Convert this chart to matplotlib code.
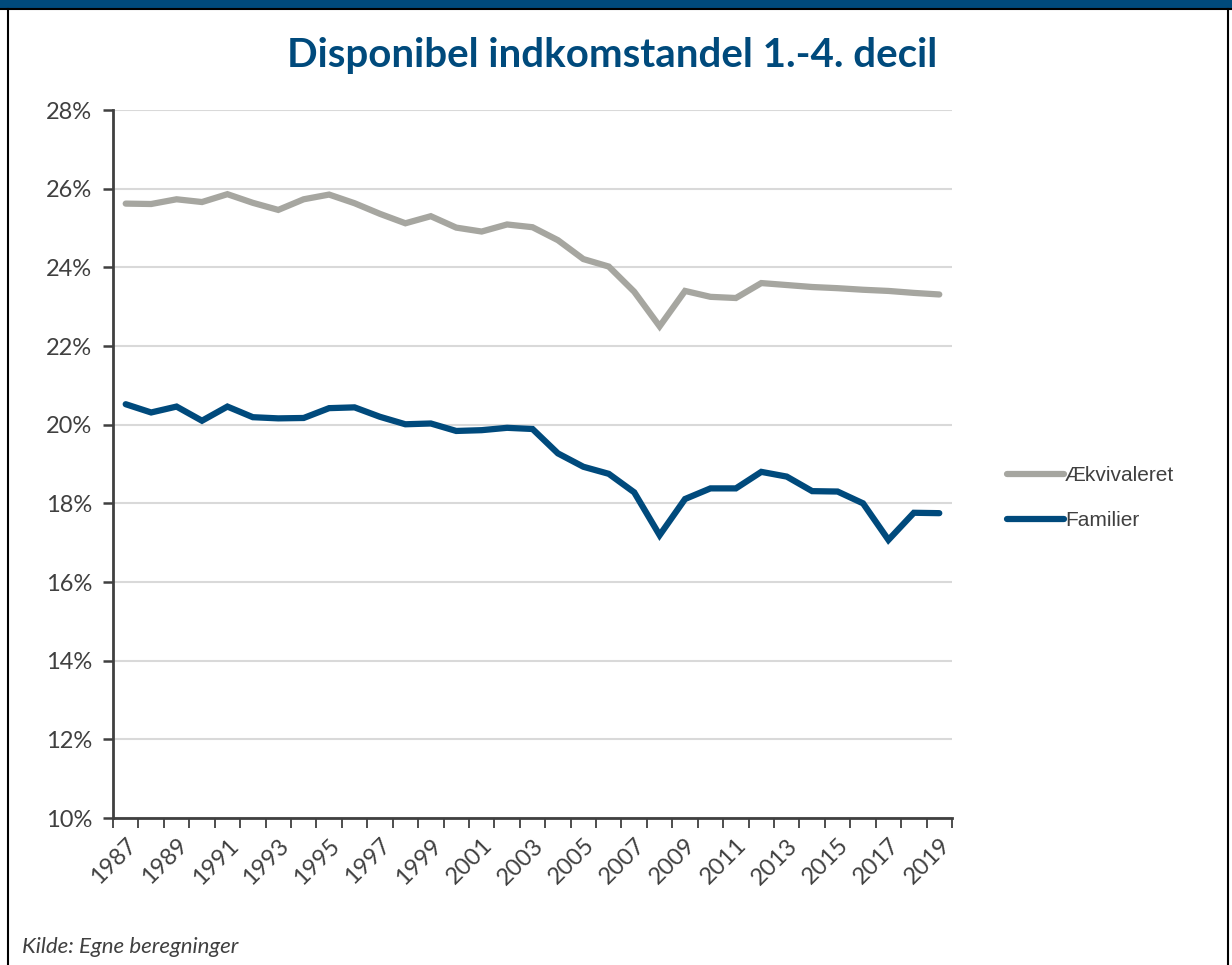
import matplotlib.pyplot as plt
import matplotlib.lines as mlines
import matplotlib.patches as patches
from matplotlib.ticker import FuncFormatter, FixedLocator

years = list(range(1987, 2020))

aekvivaleret = [25.62, 25.61, 25.73, 25.66, 25.86, 25.64, 25.46, 25.73, 25.85,
                25.63, 25.36, 25.12, 25.30, 25.01, 24.91, 25.09, 25.02, 24.69,
                24.21, 24.02, 23.38, 22.50, 23.40, 23.25, 23.22, 23.60, 23.55,
                23.50, 23.47, 23.43, 23.40, 23.35, 23.31]

familier = [20.52, 20.31, 20.46, 20.10, 20.46, 20.19, 20.16, 20.17, 20.42,
            20.44, 20.20, 20.01, 20.03, 19.84, 19.86, 19.92, 19.89, 19.27,
            18.93, 18.75, 18.28, 17.19, 18.11, 18.38, 18.38, 18.80, 18.68,
            18.31, 18.30, 18.00, 17.07, 17.76, 17.75]

grey = "#a6a6a0"
blue = "#004a7c"
txt = "#404040"

fig = plt.figure(figsize=(12.32, 9.65), dpi=100)
fig.patch.set_facecolor("white")

# frame: blue band on top, thin black border
fig.patches.append(patches.Rectangle((0, 1 - 8 / 965), 1, 8 / 965, transform=fig.transFigure,
                                     facecolor=blue, edgecolor="none", zorder=0))
fig.lines.append(mlines.Line2D([0, 1], [1 - 9 / 965] * 2, transform=fig.transFigure,
                               color="black", lw=1.5))
fig.lines.append(mlines.Line2D([8 / 1232] * 2, [0, 1 - 9 / 965], transform=fig.transFigure,
                               color="black", lw=1.5))
fig.lines.append(mlines.Line2D([1228 / 1232] * 2, [0, 1 - 9 / 965], transform=fig.transFigure,
                               color="black", lw=1.5))

ax = fig.add_axes([113 / 1232, 1 - 818 / 965, (952 - 113) / 1232, (818 - 110) / 965])

x = list(range(len(years)))
ax.plot(x, aekvivaleret, color=grey, lw=4.5, solid_capstyle="round",
        solid_joinstyle="miter", label="Ækvivaleret", zorder=3)
ax.plot(x, familier, color=blue, lw=4.5, solid_capstyle="round",
        solid_joinstyle="miter", label="Familier", zorder=3)

ax.set_xlim(-0.5, len(years) - 0.5)
ax.set_ylim(10, 28)
ax.set_yticks(range(10, 29, 2))
ax.yaxis.set_major_formatter(FuncFormatter(lambda v, p: f"{v:.0f}%"))
ax.grid(axis="y", color="#d9d9d9", lw=1.5, zorder=0)
ax.set_axisbelow(True)

# labels at every second year, tick marks between categories
ax.xaxis.set_major_locator(FixedLocator(x[::2]))
ax.set_xticklabels([str(y) for y in years[::2]])
ax.xaxis.set_minor_locator(FixedLocator([i - 0.5 for i in range(len(years) + 1)]))
ax.tick_params(axis="x", which="major", length=0, pad=12)
ax.tick_params(axis="x", which="minor", length=7, width=1.3, color=txt, direction="out")
ax.tick_params(axis="y", length=7, width=1.8, color=txt, pad=8)
for lab in ax.get_xticklabels():
    lab.set_rotation(45)
    lab.set_ha("right")
    lab.set_rotation_mode("anchor")
for lab in ax.get_xticklabels() + ax.get_yticklabels():
    lab.set_fontsize(17)
    lab.set_color(txt)
    lab.set_family(["Lato", "DejaVu Sans"])

for s in ["top", "right"]:
    ax.spines[s].set_visible(False)
for s in ["left", "bottom"]:
    ax.spines[s].set_color(txt)
    ax.spines[s].set_linewidth(2)

leg = ax.legend(loc="center left", bbox_to_anchor=(1.043, 0.452), frameon=False,
                handlelength=2.75, handletextpad=0.05, labelspacing=1.25,
                prop={"family": ["Liberation Sans", "DejaVu Sans"], "size": 15})
for t in leg.get_texts():
    t.set_color(txt)

fig.text(0.497, 1 - 55 / 965, "Disponibel indkomstandel 1.-4. decil", ha="center", va="center",
         fontsize=29, fontweight="bold", color=blue, family=["Lato", "DejaVu Sans"])
fig.text(22 / 1232, 1 - 947 / 965, "Kilde: Egne beregninger", ha="left", va="center",
         fontsize=16, style="italic", color=txt, family=["Lato", "DejaVu Sans"])

fig.savefig("out.png", dpi=100, facecolor="white")
